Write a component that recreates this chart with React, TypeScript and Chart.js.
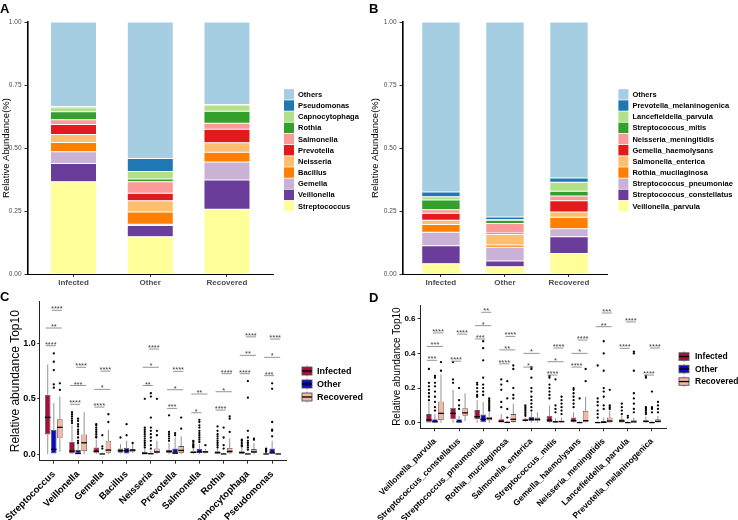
import React, { useEffect, useRef } from "react";
import { Chart, registerables } from "chart.js";

Chart.register(...registerables);

const FONT = "'Liberation Sans', Arial, Helvetica, sans-serif";
Chart.defaults.font.family = FONT;

// ---------------- shared ----------------
const GROUPS = ["Infected", "Other", "Recovered"];
const GROUP_COLORS = ["#A50F3D", "#0C0CB8", "#F7B6A1"];
const PAIRED = ["#FFFF99", "#6A3D9A", "#CAB2D6", "#FF7F00", "#FDBF6F", "#E31A1C", "#FB9A99", "#33A02C", "#B2DF8A", "#1F78B4", "#A6CEE3"];
const STACK_Y_TICKS = [0, 0.25, 0.5, 0.75, 1];

// ---------------- panel A (genus, stacked, bottom -> top) ----------------
const A_TAXA = ["Streptococcus", "Veillonella", "Gemella", "Bacillus", "Neisseria", "Prevotella", "Salmonella", "Rothia", "Capnocytophaga", "Pseudomonas", "Others"];
const A_INFECTED = [0.366, 0.072, 0.047, 0.037, 0.032, 0.039, 0.019, 0.032, 0.016, 0.005, 0.335];
const A_OTHER = [0.148, 0.044, 0.005, 0.049, 0.045, 0.029, 0.046, 0.011, 0.030, 0.051, 0.542];
const A_RECOVERED = [0.257, 0.116, 0.071, 0.039, 0.038, 0.053, 0.024, 0.048, 0.025, 0.002, 0.327];

// ---------------- panel B (species, stacked, bottom -> top) ----------------
const B_TAXA = ["Veillonella_parvula", "Streptococcus_constellatus", "Streptococcus_pneumoniae", "Rothia_mucilaginosa", "Salmonella_enterica", "Gemella_haemolysans", "Neisseria_meningitidis", "Streptococcus_mitis", "Lancefieldella_parvula", "Prevotella_melaninogenica", "Others"];
const B_INFECTED = [0.041, 0.071, 0.054, 0.030, 0.017, 0.028, 0.014, 0.039, 0.013, 0.018, 0.675];
const B_OTHER = [0.029, 0.023, 0.054, 0.009, 0.042, 0.006, 0.037, 0.013, 0.002, 0.011, 0.774];
const B_RECOVERED = [0.081, 0.067, 0.032, 0.045, 0.021, 0.045, 0.019, 0.018, 0.036, 0.017, 0.619];

// ---------------- panel C (genus box plots) [lo, q1, median, q3, hi] ----------------
const C_TAXA = ["Streptococcus", "Veillonella", "Gemella", "Bacillus", "Neisseria", "Prevotella", "Salmonella", "Rothia", "Capnocytophaga", "Pseudomonas"];
const C_Y_TICKS = [0, 0.5, 1.0];
const C_INFECTED = [
  [0, 0.178, 0.332, 0.534, 0.81], [0, 0.005, 0.027, 0.109, 0.26], [0, 0.012, 0.025, 0.06, 0.13],
  [0.005, 0.012, 0.03, 0.05, 0.09], [0, 0, 0.005, 0.02, 0.05], [0, 0.01, 0.025, 0.04, 0.1],
  [0.003, 0.01, 0.015, 0.025, 0.045], [0, 0.005, 0.012, 0.025, 0.05], [0, 0.005, 0.012, 0.025, 0.06],
  [0, 0, 0.001, 0.005, 0.012],
];
const C_INFECTED_OUT = [
  [], [0.38, 0.36, 0.34, 0.32, 0.3, 0.28], [0.27, 0.26, 0.24, 0.22, 0.2, 0.18, 0.16, 0.15], [0.15],
  [0.5, 0.24, 0.22, 0.2, 0.18, 0.16, 0.14, 0.12, 0.1, 0.08, 0.06], [0.35, 0.2, 0.18, 0.16, 0.14, 0.12],
  [0.12, 0.11, 0.09, 0.08, 0.07, 0.06], [0.25, 0.21, 0.18, 0.16, 0.14, 0.12, 0.1, 0.08, 0.06],
  [0.13, 0.12, 0.1, 0.08, 0.07], [0.05, 0.04, 0.03, 0.02],
];
const C_OTHER = [
  [0, 0, 0.043, 0.22, 0.46], [0, 0, 0.005, 0.036, 0.09], [0, 0, 0.001, 0.005, 0.012],
  [0, 0.005, 0.03, 0.055, 0.12], [0, 0, 0.003, 0.012, 0.03], [0, 0, 0.008, 0.05, 0.15],
  [0, 0.01, 0.02, 0.045, 0.09], [0, 0, 0.001, 0.005, 0.012], [0, 0, 0.001, 0.005, 0.012],
  [0, 0, 0.01, 0.05, 0.12],
];
const C_OTHER_OUT = [
  [0.91, 0.835, 0.76, 0.63, 0.6], [0.32, 0.3, 0.27, 0.25, 0.22, 0.2, 0.18, 0.15, 0.12, 0.1], [0.17, 0.07, 0.05],
  [0.27, 0.17], [0.55, 0.52, 0.33, 0.24, 0.21, 0.18, 0.15, 0.12, 0.08, 0.05], [0.19, 0.17],
  [0.31, 0.29, 0.26, 0.24, 0.21, 0.19, 0.17, 0.15, 0.13, 0.11], [0.24, 0.15, 0.08, 0.05],
  [0.66, 0.51, 0.21, 0.15, 0.12, 0.1, 0.08, 0.06, 0.04], [0.64, 0.59, 0.29, 0.22, 0.21, 0.16],
];
const C_RECOVERED = [
  [0.02, 0.142, 0.242, 0.314, 0.52], [0, 0.027, 0.102, 0.178, 0.38], [0, 0.012, 0.036, 0.12, 0.22],
  [0.01, 0.02, 0.035, 0.045, 0.09], [0, 0.01, 0.02, 0.05, 0.12], [0, 0.01, 0.033, 0.072, 0.16],
  [0.005, 0.01, 0.02, 0.03, 0.045], [0, 0.01, 0.025, 0.055, 0.14], [0, 0.01, 0.02, 0.045, 0.1],
  [0, 0, 0.001, 0.005, 0.01],
];
const C_RECOVERED_OUT = [
  [0.64, 0.58], [], [0.36, 0.29], [0.1], [0.5, 0.21, 0.17], [0.33, 0.23], [0.08], [0.34, 0.32, 0.2], [0.14, 0.13], [],
];
// [category, group a, group b, y, label]
const C_SIGNIF: [number, number, number, number, string][] = [
  [0, 0, 1, 0.98, "****"], [0, 0, 2, 1.14, "**"], [0, 1, 2, 1.30, "****"],
  [1, 0, 1, 0.45, "****"], [1, 0, 2, 0.62, "***"], [1, 1, 2, 0.785, "****"],
  [2, 0, 1, 0.425, "****"], [2, 0, 2, 0.585, "*"], [2, 1, 2, 0.75, "****"],
  [4, 0, 1, 0.62, "**"], [4, 0, 2, 0.785, "*"], [4, 1, 2, 0.95, "****"],
  [5, 0, 1, 0.413, "***"], [5, 0, 2, 0.582, "*"], [5, 1, 2, 0.748, "****"],
  [6, 0, 1, 0.374, "*"], [6, 0, 2, 0.543, "**"],
  [7, 0, 1, 0.398, "****"], [7, 0, 2, 0.564, "*"], [7, 1, 2, 0.727, "****"],
  [8, 0, 1, 0.727, "****"], [8, 0, 2, 0.893, "**"], [8, 1, 2, 1.06, "****"],
  [9, 0, 1, 0.709, "***"], [9, 0, 2, 0.875, "*"], [9, 1, 2, 1.04, "****"],
];

// ---------------- panel D (species box plots) [lo, q1, median, q3, hi] ----------------
const D_TAXA = ["Veillonella_parvula", "Streptococcus_constellatus", "Streptococcus_pneumoniae", "Rothia_mucilaginosa", "Salmonella_enterica", "Streptococcus_mitis", "Gemella_haemolysans", "Neisseria_meningitidis", "Lancefieldella_parvula", "Prevotella_melaninogenica"];
const D_Y_TICKS = [0, 0.2, 0.4, 0.6];
const D_INFECTED = [
  [0, 0.002, 0.016, 0.05, 0.12], [0, 0.02, 0.054, 0.085, 0.19], [0, 0.021, 0.035, 0.073, 0.13],
  [0, 0.002, 0.008, 0.02, 0.05], [0.003, 0.01, 0.015, 0.02, 0.03], [0, 0.005, 0.015, 0.04, 0.1],
  [0, 0.003, 0.012, 0.03, 0.06], [0, 0, 0.001, 0.003, 0.006], [0, 0.002, 0.01, 0.02, 0.04],
  [0, 0.002, 0.008, 0.015, 0.035],
];
const D_INFECTED_OUT = [
  [0.31, 0.23, 0.21, 0.19, 0.17, 0.15, 0.13], [0.35, 0.25, 0.23], [0.23, 0.22, 0.2, 0.18, 0.16, 0.15],
  [0.25, 0.22, 0.19, 0.12, 0.09], [0.1, 0.09, 0.08, 0.07, 0.06, 0.05, 0.04], [0.27, 0.26, 0.22, 0.2, 0.18, 0.16, 0.14],
  [0.2, 0.19, 0.17, 0.15, 0.13, 0.11, 0.09], [0.33, 0.14, 0.12, 0.1, 0.07, 0.05, 0.03], [0.11, 0.09, 0.07, 0.05],
  [0.27, 0.26, 0.09, 0.08, 0.07, 0.06, 0.05],
];
const D_OTHER = [
  [0, 0, 0.005, 0.02, 0.05], [0, 0, 0.005, 0.02, 0.04], [0, 0, 0.02, 0.048, 0.12],
  [0, 0, 0.002, 0.005, 0.012], [0, 0.01, 0.02, 0.035, 0.06], [0, 0, 0.005, 0.01, 0.025],
  [0, 0, 0.001, 0.003, 0.007], [0, 0, 0.002, 0.012, 0.03], [0, 0, 0.001, 0.003, 0.007],
  [0, 0, 0.001, 0.005, 0.012],
];
const D_OTHER_OUT = [
  [0.27, 0.26, 0.23, 0.21, 0.18, 0.15, 0.12, 0.09, 0.07], [0.2, 0.13, 0.1, 0.08], [0.47, 0.43, 0.36, 0.26, 0.22, 0.2, 0.18, 0.16],
  [0.24, 0.14, 0.08, 0.03], [0.32, 0.31, 0.26, 0.2, 0.18, 0.15, 0.13, 0.11, 0.09, 0.07], [0.25, 0.1, 0.08, 0.06],
  [0.14], [0.47, 0.4, 0.3, 0.2, 0.18, 0.15, 0.1, 0.08], [0.04, 0.03], [0.18, 0.09, 0.08, 0.06],
];
const D_RECOVERED = [
  [0, 0.016, 0.054, 0.123, 0.28], [0.01, 0.04, 0.057, 0.083, 0.17], [0, 0.015, 0.025, 0.035, 0.06],
  [0, 0.005, 0.02, 0.05, 0.11], [0, 0.01, 0.02, 0.03, 0.06], [0, 0.002, 0.007, 0.012, 0.03],
  [0, 0.003, 0.012, 0.068, 0.15], [0, 0.002, 0.01, 0.03, 0.07], [0, 0, 0.005, 0.015, 0.03],
  [0, 0.002, 0.008, 0.02, 0.04],
];
const D_RECOVERED_OUT = [
  [0.35, 0.3], [], [0.14, 0.13, 0.12, 0.11, 0.1, 0.09, 0.08, 0.07], [0.33, 0.31, 0.2, 0.16, 0.14], [],
  [0.15, 0.13, 0.11, 0.09, 0.07, 0.05], [0.31, 0.24], [0.19, 0.1, 0.09, 0.08], [0.41, 0.4, 0.3, 0.17, 0.14, 0.11, 0.08, 0.06],
  [0.12, 0.1, 0.08, 0.06],
];
const D_SIGNIF: [number, number, number, number, string][] = [
  [0, 0, 1, 0.36, "***"], [0, 0, 2, 0.44, "***"], [0, 1, 2, 0.518, "****"],
  [1, 0, 1, 0.355, "****"], [1, 1, 2, 0.511, "****"],
  [2, 0, 1, 0.483, "***"], [2, 0, 2, 0.56, "*"], [2, 1, 2, 0.637, "**"],
  [3, 0, 1, 0.34, "****"], [3, 0, 2, 0.42, "**"], [3, 1, 2, 0.498, "****"],
  [4, 0, 1, 0.321, "*"], [4, 0, 2, 0.40, "*"],
  [5, 0, 1, 0.275, "****"], [5, 0, 2, 0.352, "*"], [5, 1, 2, 0.431, "****"],
  [6, 0, 1, 0.321, "****"], [6, 0, 2, 0.40, "*"], [6, 1, 2, 0.477, "****"],
  [7, 0, 2, 0.554, "**"], [7, 1, 2, 0.633, "***"],
  [8, 0, 1, 0.429, "****"], [8, 1, 2, 0.581, "****"],
  [9, 0, 1, 0.275, "****"], [9, 1, 2, 0.431, "****"],
];

// ---------------- helpers ----------------
type Area = { l: number; t: number; r: number; b: number };

function tickGrid(len: number) {
  return { display: true, drawOnChartArea: false, drawTicks: true, tickLength: len, color: "#333", offset: false };
}

function stackLegendPlugin(names: string[], colors: string[]) {
  return {
    id: "stackLegend",
    afterDraw(chart: any) {
      const ctx = chart.ctx;
      const ca = chart.chartArea;
      const rowH = 11.17;
      const mid = (ca.top + ca.bottom) / 2 + 2.2;
      const n = names.length;
      ctx.save();
      ctx.font = `bold 7.5px ${FONT}`;
      ctx.textBaseline = "middle";
      ctx.textAlign = "left";
      for (let r = 0; r < n; r++) {
        const k = n - 1 - r;
        const y = mid + (r - (n - 1) / 2) * rowH;
        ctx.fillStyle = colors[k];
        ctx.fillRect(ca.right + 11, y - 5.2, 10, 10.4);
        ctx.fillStyle = "#000";
        ctx.fillText(names[k], ca.right + 25, y + 0.5);
      }
      ctx.restore();
    },
  };
}

function stackConfig(taxa: string[], inf: number[], oth: number[], rec: number[], W: number, H: number, a: Area): any {
  return {
    type: "bar",
    data: {
      datasets: taxa.map((name, k) => ({
        label: name,
        data: [inf[k], oth[k], rec[k]].map((v, i) => ({ x: i + 1, y: v })),
        backgroundColor: PAIRED[k],
        borderColor: "rgba(255,255,255,0.85)",
        borderWidth: 0.5,
        borderSkipped: false,
        categoryPercentage: 0.6,
        barPercentage: 1,
      })),
    },
    options: {
      animation: false,
      responsive: false,
      events: [],
      layout: { padding: { left: 0, top: a.t, right: W - a.r, bottom: 0 } },
      plugins: { legend: { display: false }, tooltip: { enabled: false } },
      scales: {
        x: {
          type: "linear",
          min: 0.4,
          max: 3.6,
          stacked: true,
          offset: false,
          afterBuildTicks: (s: any) => { s.ticks = GROUPS.map((_, i) => ({ value: i + 1 })); },
          afterFit: (s: any) => { s.height = H - a.b; },
          ticks: {
            autoSkip: false, minRotation: 0, maxRotation: 0, padding: 1,
            color: "#4d4d4d", font: { size: 8, weight: "bold" },
            callback: (v: any) => GROUPS[Math.round(v) - 1] ?? "",
          },
          grid: tickGrid(3),
          border: { display: true, color: "#000", width: 1 },
        },
        y: {
          type: "linear",
          min: 0,
          max: 1,
          stacked: true,
          afterBuildTicks: (s: any) => { s.ticks = STACK_Y_TICKS.map((v) => ({ value: v })); },
          afterFit: (s: any) => { s.width = a.l; },
          ticks: { color: "#4d4d4d", font: { size: 6.5 }, padding: 3, callback: (v: any) => Number(v).toFixed(2) },
          grid: tickGrid(3),
          border: { display: true, color: "#000", width: 1.6 },
          title: { display: true, text: "Relative Abundance(%)", color: "#000", font: { size: 9.5 }, padding: { top: 1, bottom: 0 } },
        },
      },
    },
    plugins: [stackLegendPlugin(taxa, PAIRED)],
  };
}

type Leg = { keyDx: number; textDx: number; midDy: number; rowH: number; font: number; keyH: number };

function boxPlugin(stats: number[][][], outs: number[][][], sig: [number, number, number, number, string][], leg: Leg) {
  return {
    id: "boxExtras",
    afterDatasetsDraw(chart: any) {
      const ctx = chart.ctx;
      const ys = chart.scales.y;
      const py = (v: number) => ys.getPixelForValue(v);
      const line = (x1: number, y1: number, x2: number, y2: number) => {
        ctx.beginPath(); ctx.moveTo(x1, y1); ctx.lineTo(x2, y2); ctx.stroke();
      };
      ctx.save();
      stats.forEach((rows, g) => {
        const meta = chart.getDatasetMeta(g);
        rows.forEach((r, i) => {
          const el: any = meta.data[i];
          const x = el.x, w = el.width;
          const [lo, q1, med, q3, hi] = r;
          ctx.strokeStyle = "#777";
          ctx.lineWidth = 0.8;
          if (hi > q3) line(x, py(q3), x, py(hi));
          if (lo < q1) line(x, py(q1), x, py(lo));
          ctx.strokeStyle = "#000";
          ctx.lineWidth = 1.3;
          line(x - w / 2, py(med), x + w / 2, py(med));
          ctx.fillStyle = "#000";
          outs[g][i].forEach((v) => {
            ctx.beginPath(); ctx.arc(x, py(v), 1.15, 0, Math.PI * 2); ctx.fill();
          });
        });
      });
      ctx.font = `7.5px ${FONT}`;
      ctx.textAlign = "center";
      ctx.textBaseline = "alphabetic";
      sig.forEach(([cat, g1, g2, v, label]) => {
        const x1 = chart.getDatasetMeta(g1).data[cat].x - 2;
        const x2 = chart.getDatasetMeta(g2).data[cat].x + 2;
        const y = py(v);
        ctx.strokeStyle = "#888";
        ctx.lineWidth = 0.9;
        line(x1, y, x2, y);
        ctx.fillStyle = "#444";
        ctx.fillText(label, (x1 + x2) / 2, y + 1);
      });
      ctx.restore();
    },
    afterDraw(chart: any) {
      const ctx = chart.ctx;
      const ca = chart.chartArea;
      const mid = (ca.top + ca.bottom) / 2 + leg.midDy;
      ctx.save();
      GROUPS.forEach((name, g) => {
        const y = mid + (g - 1) * leg.rowH;
        const x = ca.right + leg.keyDx;
        const h = leg.keyH;
        ctx.strokeStyle = "#777";
        ctx.lineWidth = 0.8;
        ctx.beginPath(); ctx.moveTo(x + 5, y - h / 2 - 1.5); ctx.lineTo(x + 5, y + h / 2 + 1.5); ctx.stroke();
        ctx.fillStyle = GROUP_COLORS[g];
        ctx.fillRect(x, y - h / 2, 10, h);
        ctx.strokeStyle = "#555";
        ctx.lineWidth = 0.9;
        ctx.strokeRect(x, y - h / 2, 10, h);
        ctx.strokeStyle = "#000";
        ctx.lineWidth = 1.3;
        ctx.beginPath(); ctx.moveTo(x, y); ctx.lineTo(x + 10, y); ctx.stroke();
        ctx.fillStyle = "#000";
        ctx.font = `bold ${leg.font}px ${FONT}`;
        ctx.textAlign = "left";
        ctx.textBaseline = "middle";
        ctx.fillText(name, ca.right + leg.textDx, y + 0.5);
      });
      ctx.restore();
    },
  };
}

function boxConfig(
  taxa: string[], stats: number[][][], outs: number[][][], sig: [number, number, number, number, string][],
  yTicks: number[], yMin: number, yMax: number, W: number, H: number, a: Area,
  o: { tickFont: number; xFont: number; titleFont: number; titlePad: number; yTickLen: number; yTickPad: number; xPad: number; leg: Leg }
): any {
  return {
    type: "bar",
    data: {
      datasets: stats.map((rows, g) => ({
        label: GROUPS[g],
        data: rows.map((r, i) => ({ x: i + 1, y: [r[1], r[3]] })),
        backgroundColor: GROUP_COLORS[g],
        borderColor: "#555",
        borderWidth: 0.8,
        borderSkipped: false,
        categoryPercentage: 0.75,
        barPercentage: 0.92,
      })),
    },
    options: {
      animation: false,
      responsive: false,
      events: [],
      layout: { padding: { left: 0, top: a.t, right: W - a.r, bottom: 0 } },
      plugins: { legend: { display: false }, tooltip: { enabled: false } },
      scales: {
        x: {
          type: "linear",
          min: 0.4,
          max: taxa.length + 0.6,
          offset: false,
          afterBuildTicks: (s: any) => { s.ticks = taxa.map((_, i) => ({ value: i + 1 })); },
          afterFit: (s: any) => { s.height = H - a.b; },
          ticks: {
            autoSkip: false, minRotation: 45, maxRotation: 45, padding: o.xPad,
            color: "#000", font: { size: o.xFont, weight: "bold" },
            callback: (v: any) => taxa[Math.round(v) - 1] ?? "",
          },
          grid: tickGrid(3),
          border: { display: true, color: "#222", width: 1 },
        },
        y: {
          type: "linear",
          min: yMin,
          max: yMax,
          afterBuildTicks: (s: any) => { s.ticks = yTicks.map((v) => ({ value: v })); },
          afterFit: (s: any) => { s.width = a.l; },
          ticks: { color: "#000", font: { size: o.tickFont, weight: "bold" }, padding: o.yTickPad, callback: (v: any) => Number(v).toFixed(1) },
          grid: tickGrid(o.yTickLen),
          border: { display: true, color: "#222", width: 1 },
          title: { display: true, text: "Relative abundance Top10", color: "#000", font: { size: o.titleFont }, padding: { top: o.titlePad, bottom: 0 } },
        },
      },
    },
    plugins: [boxPlugin(stats, outs, sig, o.leg)],
  };
}

function ChartBox({ left, top, width, height, build }: { left: number; top: number; width: number; height: number; build: () => any }) {
  const ref = useRef<HTMLCanvasElement>(null);
  useEffect(() => {
    const chart = new Chart(ref.current as HTMLCanvasElement, build());
    return () => chart.destroy();
  }, []);
  return (
    <canvas
      ref={ref}
      width={width}
      height={height}
      style={{ position: "absolute", left, top, width, height, display: "block" }}
    />
  );
}

const letterStyle = (left: number, top: number): React.CSSProperties => ({
  position: "absolute", left, top, font: `bold 13px/13px ${FONT}`, color: "#000", margin: 0,
});

export default function App() {
  return (
    <div style={{ position: "absolute", left: 0, top: 0, width: 738, height: 520, background: "#fff", overflow: "hidden" }}>
      <ChartBox left={0} top={0} width={369} height={290}
        build={() => stackConfig(A_TAXA, A_INFECTED, A_OTHER, A_RECOVERED, 369, 290, { l: 27.5, t: 22, r: 273, b: 274 })} />
      <ChartBox left={369} top={0} width={369} height={290}
        build={() => stackConfig(B_TAXA, B_INFECTED, B_OTHER, B_RECOVERED, 369, 290, { l: 33.5, t: 22, r: 238.4, b: 274 })} />
      <ChartBox left={0} top={283} width={369} height={237}
        build={() => boxConfig(C_TAXA, [C_INFECTED, C_OTHER, C_RECOVERED], [C_INFECTED_OUT, C_OTHER_OUT, C_RECOVERED_OUT], C_SIGNIF,
          C_Y_TICKS, -0.06, 1.378, 369, 237, { l: 36.3, t: 18.7, r: 286.7, b: 177.7 },
          { tickFont: 9, xFont: 9.5, titleFont: 12, titlePad: 6, yTickLen: 2, yTickPad: 1.5, xPad: 5,
            leg: { keyDx: 15.3, textDx: 30.3, midDy: 2.8, rowH: 13, font: 9, keyH: 8 } })} />
      <ChartBox left={369} top={283} width={369} height={237}
        build={() => boxConfig(D_TAXA, [D_INFECTED, D_OTHER, D_RECOVERED], [D_INFECTED_OUT, D_OTHER_OUT, D_RECOVERED_OUT], D_SIGNIF,
          D_Y_TICKS, -0.032, 0.679, 369, 237, { l: 51.5, t: 22, r: 297.4, b: 145.3 },
          { tickFont: 8, xFont: 8.5, titleFont: 10, titlePad: 22, yTickLen: 3, yTickPad: 2, xPad: 5,
            leg: { keyDx: 12.6, textDx: 28.6, midDy: 2.4, rowH: 12.5, font: 8.5, keyH: 7.5 } })} />
      <div style={letterStyle(0, 1.6)}>A</div>
      <div style={letterStyle(369, 1.6)}>B</div>
      <div style={letterStyle(0, 290)}>C</div>
      <div style={letterStyle(369, 290.6)}>D</div>
    </div>
  );
}
